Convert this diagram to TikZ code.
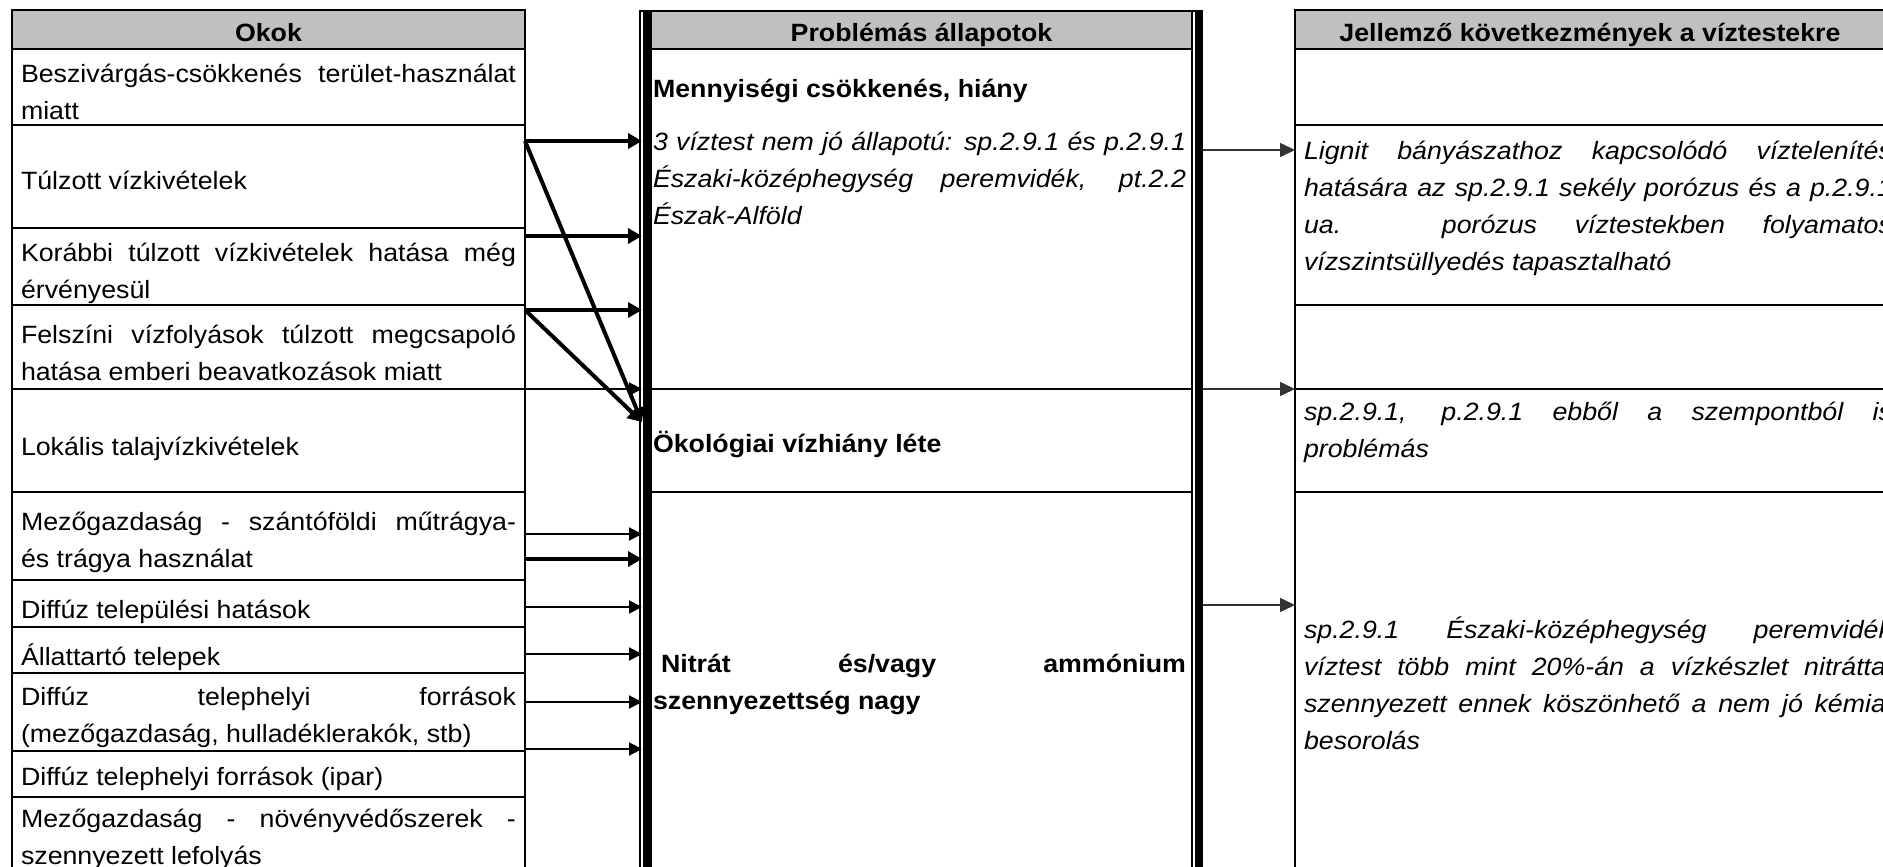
\documentclass[tikz,border=0pt]{standalone}
\usepackage{fontspec}
\setmainfont{Liberation Sans}[FakeStretch=1.07]
\usetikzlibrary{arrows.meta}
\hyphenpenalty=10000 \exhyphenpenalty=10000 \tolerance=9999 \hbadness=10000
\definecolor{hdrgray}{RGB}{192,192,192}
\begin{document}
\begin{tikzpicture}[x=1pt,y=-1pt,
  cell/.style={draw, line width=2pt, inner sep=0pt, outer sep=0pt, anchor=north west},
  hcell/.style={cell, fill=hdrgray},
  txt/.style={inner sep=0pt, outer sep=0pt, anchor=base west, align=justify, font=\fontsize{25}{37}\selectfont},
  ltxt/.style={txt, text width=495},
  mtxt/.style={txt, text width=533},
  rtxt/.style={txt, text width=588},
  htxt/.style={inner sep=0pt, anchor=base, font=\fontsize{25}{37}\selectfont\bfseries},
  thickarr/.style={line width=4pt, -{Triangle[length=14pt,width=15pt]}},
  thinarr/.style={line width=2pt, -{Triangle[length=13pt,width=13pt]}},
  outarr/.style={line width=1.5pt, draw=black!80, -{Triangle[length=15pt,width=14pt]}}
]
\useasboundingbox (0,0) rectangle (1883,867);
\clip (0,0) rectangle (1883,867);

% ---- left column cells
\node[hcell, minimum width=513, minimum height=39] (L0) at (12,10) {};
\node[cell, minimum width=513, minimum height=76] (L1) at (12,49) {};
\node[cell, minimum width=513, minimum height=103] (L2) at (12,125) {};
\node[cell, minimum width=513, minimum height=77] (L3) at (12,228) {};
\node[cell, minimum width=513, minimum height=84] (L4) at (12,305) {};
\node[cell, minimum width=513, minimum height=103] (L5) at (12,389) {};
\node[cell, minimum width=513, minimum height=88] (L6) at (12,492) {};
\node[cell, minimum width=513, minimum height=47] (L7) at (12,580) {};
\node[cell, minimum width=513, minimum height=46] (L8) at (12,627) {};
\node[cell, minimum width=513, minimum height=78] (L9) at (12,673) {};
\node[cell, minimum width=513, minimum height=46] (L10) at (12,751) {};
\node[cell, minimum width=513, minimum height=110] (L11) at (12,797) {};

% ---- middle column cells
\node[hcell, minimum width=544, minimum height=38] (M0) at (648,11) {};
\node[cell, minimum width=544, minimum height=340] (M1) at (648,49) {};
\node[cell, minimum width=544, minimum height=103] (M2) at (648,389) {};
\node[cell, minimum width=544, minimum height=420] (M3) at (648,492) {};
\draw[line width=1.3pt] (640,10) -- (640,900);
\draw[line width=8.5pt] (647.5,10) -- (647.5,900);
\draw[line width=8pt] (1199,10) -- (1199,900);
\draw[line width=2pt] (639.5,11) -- (1203,11);
\coordinate (ml) at (642,0);
\coordinate (mr) at (1203,0);

% ---- right column cells
\node[hcell, minimum width=620, minimum height=39] (R0) at (1295,10) {};
\node[cell, minimum width=620, minimum height=76] (R1) at (1295,49) {};
\node[cell, minimum width=620, minimum height=180] (R2) at (1295,125) {};
\node[cell, minimum width=620, minimum height=84] (R3) at (1295,305) {};
\node[cell, minimum width=620, minimum height=103] (R4) at (1295,389) {};
\node[cell, minimum width=620, minimum height=420] (R5) at (1295,492) {};

% ---- headers
\node[htxt] (h1) at (268.5,42) {Okok};
\node[htxt] (h2) at (921.5,42) {Problémás állapotok};
\node[htxt] (h3) at (1590,42) {Jellemző következmények a víztestekre};

% ---- left texts
\node[ltxt] (t1) at (21,82) {Beszivárgás-csökkenés terület-használat\linebreak miatt};
\node[ltxt] (t2) at (21,189) {Túlzott vízkivételek};
\node[ltxt] (t3) at (21,261) {Korábbi túlzott vízkivételek hatása még\linebreak érvényesül};
\node[ltxt] (t4) at (21,343) {Felszíni vízfolyások túlzott megcsapoló\linebreak hatása emberi beavatkozások miatt};
\node[ltxt] (t5) at (21,455) {Lokális talajvízkivételek};
\node[ltxt] (t6) at (21,530) {Mezőgazdaság - szántóföldi műtrágya-\linebreak és trágya használat};
\node[ltxt] (t7) at (21,618) {Diffúz települési hatások};
\node[ltxt] (t8) at (21,665) {Állattartó telepek};
\node[ltxt] (t9) at (21,705) {Diffúz telephelyi források\linebreak (mezőgazdaság, hulladéklerakók, stb)};
\node[ltxt] (t10) at (21,785) {Diffúz telephelyi források (ipar)};
\node[ltxt] (t11) at (21,827) {Mezőgazdaság - növényvédőszerek -\linebreak szennyezett lefolyás};

% ---- middle texts
\node[mtxt, font=\fontsize{25}{37}\selectfont\bfseries] (m1) at (653,97) {Mennyiségi csökkenés, hiány};
\node[mtxt, font=\fontsize{25}{37}\selectfont\itshape] (m2) at (653,150) {3 víztest nem jó állapotú: sp.2.9.1 és p.2.9.1\linebreak Északi-középhegység peremvidék, pt.2.2\linebreak Észak-Alföld};
\node[mtxt, font=\fontsize{25}{37}\selectfont\bfseries] (m3) at (653,452) {Ökológiai vízhiány léte};
\node[mtxt, font=\fontsize{25}{37}\selectfont\bfseries] (m4) at (653,672) {\hspace*{8pt}Nitrát és/vagy ammónium\linebreak szennyezettség nagy};

% ---- right texts
\node[rtxt, font=\fontsize{25}{37}\selectfont\itshape] (r1) at (1304,159) {Lignit bányászathoz kapcsolódó víztelenítés\linebreak hatására az sp.2.9.1 sekély porózus és a p.2.9.1\linebreak ua. porózus víztestekben folyamatos\linebreak vízszintsüllyedés tapasztalható};
\node[rtxt, font=\fontsize{25}{37}\selectfont\itshape] (r2) at (1304,420) {sp.2.9.1, p.2.9.1 ebből a szempontból is\linebreak problémás};
\node[rtxt, font=\fontsize{25}{37}\selectfont\itshape] (r3) at (1304,638) {sp.2.9.1 Északi-középhegység peremvidék\linebreak víztest több mint 20\%-án a vízkészlet nitráttal\linebreak szennyezett ennek köszönhető a nem jó kémiai\linebreak besorolás};

% ---- arrows left -> middle
\draw[thickarr] (L2.east |- 0,141) -- (ml |- 0,141);
\draw[thickarr] (L3.east |- 0,236) -- (ml |- 0,236);
\draw[thickarr] (L4.east |- 0,310) -- (ml |- 0,310);
\draw[thinarr] (L5.east |- 0,389) -- (ml |- 0,389);
\draw[thickarr] (L2.east |- 0,141) -- (ml |- 0,422);
\draw[thickarr] (L4.east |- 0,310) -- (ml |- 0,422);
\draw[thinarr] (L6.east |- 0,534) -- (ml |- 0,534);
\draw[thickarr] (L6.east |- 0,559) -- (ml |- 0,559);
\draw[thinarr] (L7.east |- 0,607) -- (ml |- 0,607);
\draw[thinarr] (L8.east |- 0,654) -- (ml |- 0,654);
\draw[thinarr] (L9.east |- 0,702) -- (ml |- 0,702);
\draw[thinarr] (L9.east |- 0,749) -- (ml |- 0,749);

% ---- arrows middle -> right
\draw[outarr] (mr |- 0,150) -- (R2.west |- 0,150);
\draw[outarr] (mr |- 0,389) -- (R4.west |- 0,389);
\draw[outarr] (mr |- 0,605) -- (R5.west |- 0,605);
\end{tikzpicture}
\end{document}
